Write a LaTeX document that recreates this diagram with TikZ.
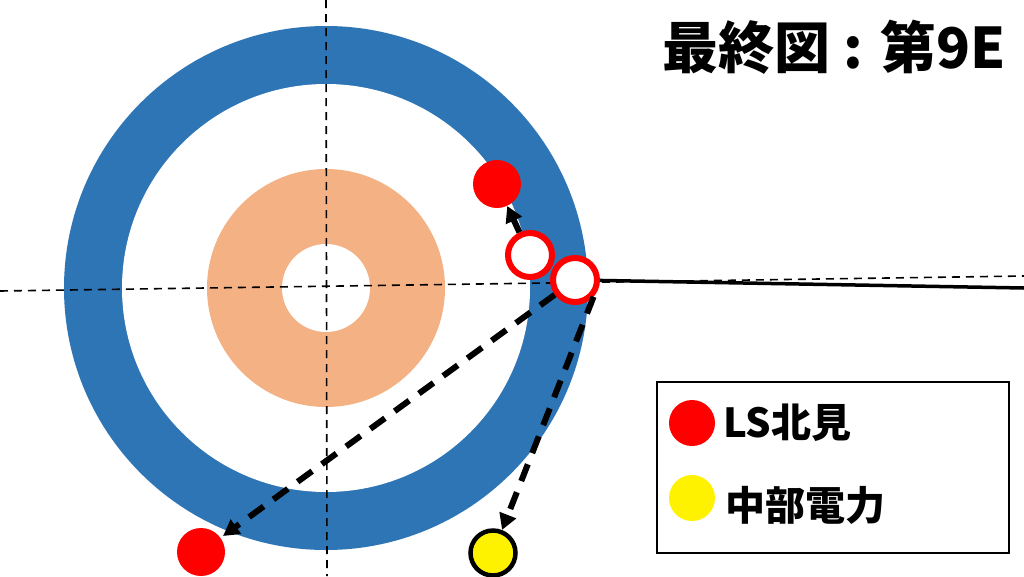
\documentclass[tikz,border=0pt]{standalone}
\usepackage{fontspec}
\newfontfamily\cjk{Noto Sans CJK JP}
\usetikzlibrary{arrows.meta}

\definecolor{houseblue}{HTML}{2E75B6}
\definecolor{fourfoot}{HTML}{F4B183}

\begin{document}
\begin{tikzpicture}[x=1pt, y=-1pt,
			guide/.style={draw=black, line width=1.6pt, dash pattern=on 8pt off 6pt},
			redstone/.style={circle, fill=red, minimum size=48pt, inner sep=0pt},
			pastshot/.style={circle, draw=red, line width=6pt, fill=white, minimum size=44pt, inner sep=0pt},
			yellowstone/.style={circle, draw=black, line width=4.5pt, fill=yellow, minimum size=45pt, inner sep=0pt},
			move/.style={-{Triangle[length=16pt, width=17pt]}, line width=6pt, draw=black},
			shot/.style={move, dash pattern=on 18pt off 12pt},
			label/.style={font=\cjk\bfseries\fontsize{40pt}{40pt}\selectfont, anchor=west, inner sep=0pt}
			]
			\useasboundingbox (0,0) rectangle (1024,576);
			\fill[white] (0,0) rectangle (1024,576);
			
			% House
			\coordinate (tee) at (326,288);
			\fill[houseblue] (tee) circle (262pt);
			\fill[white] (tee) circle (204pt);
			\fill[fourfoot] (tee) circle (119pt);
			\fill[white] (tee) circle (44pt);
			
			% Centre lines
			\coordinate (ctop) at (326,0);
			\coordinate (cbot) at (327,576);
			\coordinate (tleft) at (0,291);
			\coordinate (tright) at (1024,276);
			\draw[guide] (ctop) -- (cbot);
			\draw[guide] (tleft) -- (tright);
			
			% Stones
			\node[redstone] (r1) at (497,184) {};
			\node[pastshot] (h1) at (530,255) {};
			\node[pastshot] (h2) at (575,280) {};
			\node[redstone] (r2) at (201,552) {};
			\node[yellowstone] (y1) at (493,553) {};
			
			% Moves
			\coordinate (lineend) at (1024,288);
			\draw[line width=3.5pt] (h2) -- (lineend);
			\draw[move] (h1) -- (r1);
			\draw[shot, shorten >=3pt] (h2) -- (r2);
			\draw[shot] (h2.-42) -- (y1);
			
			% Legend
			\node[draw=black, line width=1.6pt, minimum width=352pt, minimum height=171pt, inner sep=0pt] (legend) at (833,467.5) {};
			\node[redstone, minimum size=46pt] (keyred) at (692,423) {};
			\node[redstone, fill=yellow, minimum size=46pt] (keyyellow) at (692,498) {};
			\node[label] (lsk) at (723,423) {LS北見};
			\node[label] (chubu) at (725,505) {中部電力};
			
			\node[font=\cjk\bfseries\fontsize{56pt}{56pt}\selectfont, inner sep=0pt] (title) at (834,47) {最終図 : 第9E};
		\end{tikzpicture}
\end{document}
